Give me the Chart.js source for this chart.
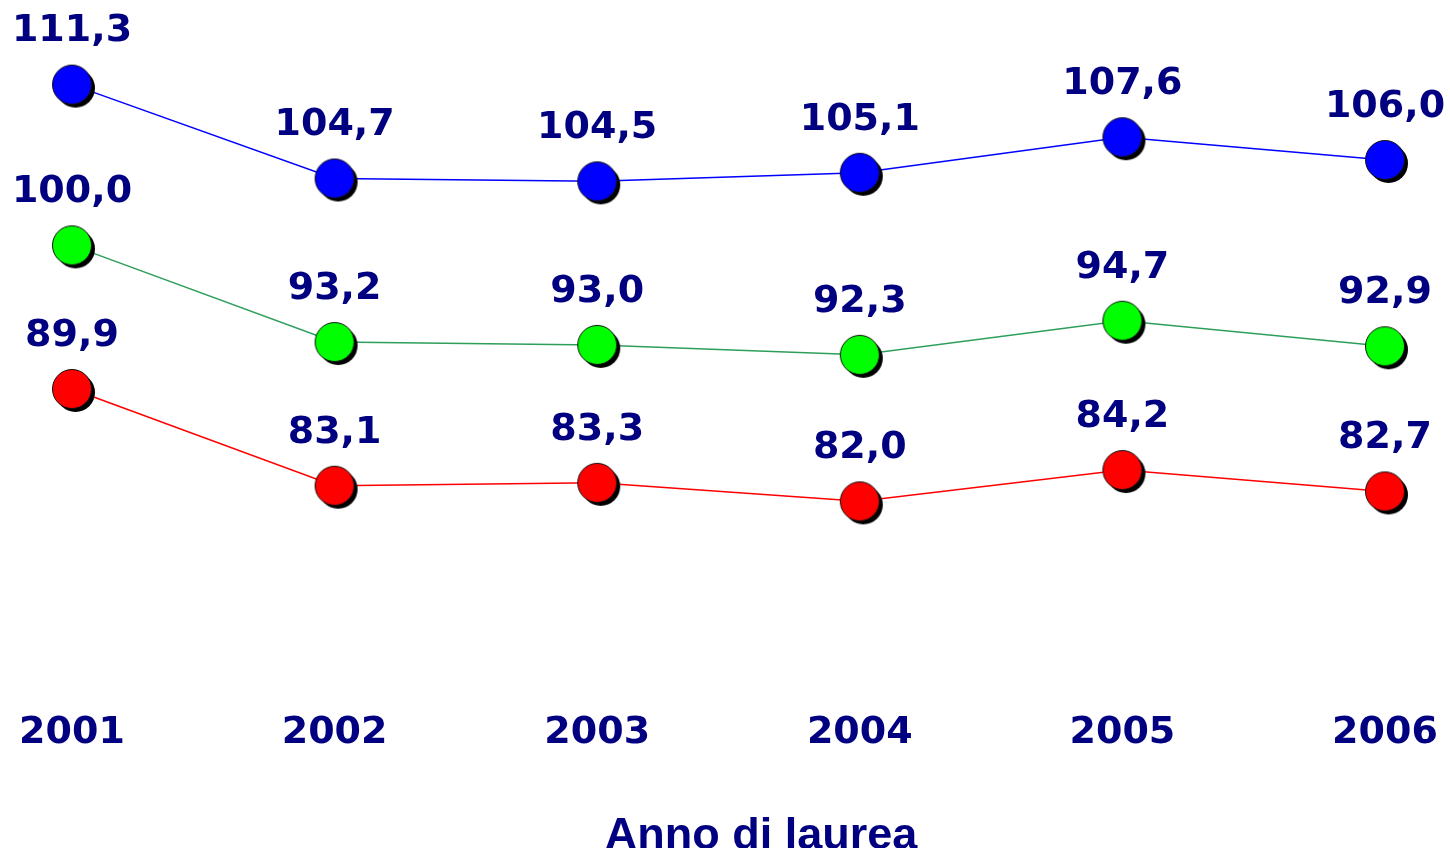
<!DOCTYPE html>
<html>
<head>
<meta charset="utf-8">
<script src="https://cdn.jsdelivr.net/npm/chart.js@4/dist/chart.umd.min.js"></script>
<style>
  html, body { margin: 0; padding: 0; background: #fff; }
  #wrap { width: 1450px; height: 848px; }
</style>
</head>
<body>
<div id="wrap"><canvas id="c" width="1450" height="848"></canvas></div>
<script>
const years = ["2001", "2002", "2003", "2004", "2005", "2006"];
const blueValues = [111.3, 104.7, 104.5, 105.1, 107.6, 106.0];
const greenValues = [100.0, 93.2, 93.0, 92.3, 94.7, 92.9];
const redValues = [89.9, 83.1, 83.3, 82.0, 84.2, 82.7];
const axisTitle = "Anno di laurea";

const NAVY = "#000080";

// ball marker with a dark drop shadow
function ball(fill) {
  const cv = document.createElement("canvas");
  cv.width = 54; cv.height = 54;
  const g = cv.getContext("2d");
  g.fillStyle = "#000";
  g.beginPath(); g.arc(30.5, 30.5, 19.5, 0, Math.PI * 2); g.fill();
  g.fillStyle = fill;
  g.beginPath(); g.arc(27, 27, 19.5, 0, Math.PI * 2); g.fill();
  g.strokeStyle = "#111";
  g.lineWidth = 1;
  g.stroke();
  return cv;
}

// value labels above the points + the axis title (sits right of centre in the original)
const textLayer = {
  id: "textLayer",
  afterDatasetsDraw(chart) {
    const ctx = chart.ctx;
    ctx.save();
    ctx.font = "bold 38px 'DejaVu Sans'";
    ctx.fillStyle = NAVY;
    ctx.textAlign = "center";
    ctx.textBaseline = "middle";
    chart.data.datasets.forEach((ds, i) => {
      chart.getDatasetMeta(i).data.forEach((pt, j) => {
        ctx.fillText(ds.data[j].toFixed(1).replace(".", ","), pt.x, pt.y - 53);
      });
    });
    ctx.font = "bold 45px 'Liberation Sans'";
    ctx.textBaseline = "alphabetic";
    ctx.fillText(axisTitle, 761, 849);
    ctx.restore();
  }
};

function series(values, line, fill) {
  return {
    data: values,
    borderColor: line,
    borderWidth: 1.5,
    pointStyle: ball(fill),
    pointRadius: 19,
    pointHoverRadius: 19,
    clip: false,
    tension: 0
  };
}

new Chart(document.getElementById("c"), {
  type: "line",
  data: {
    labels: years,
    datasets: [
      series(blueValues, "#0000ff", "#0000ff"),
      series(greenValues, "#2e9e5b", "#00ff00"),
      series(redValues, "#ff0000", "#ff0000")
    ]
  },
  options: {
    responsive: false,
    animation: false,
    events: [],
    layout: { padding: { top: 32, left: 72, right: 65, bottom: 0 } },
    plugins: { legend: { display: false }, tooltip: { enabled: false } },
    scales: {
      x: {
        offset: false,
        grid: { display: false, drawTicks: true, tickLength: 38 },
        border: { display: false },
        ticks: {
          color: NAVY,
          padding: 0,
          font: { family: "DejaVu Sans", weight: "bold", size: 38 }
        },
        afterFit(scale) { scale.height = 176; }
      },
      y: {
        display: false,
        min: 70,
        max: 115
      }
    }
  },
  plugins: [textLayer]
});
</script>
</body>
</html>
